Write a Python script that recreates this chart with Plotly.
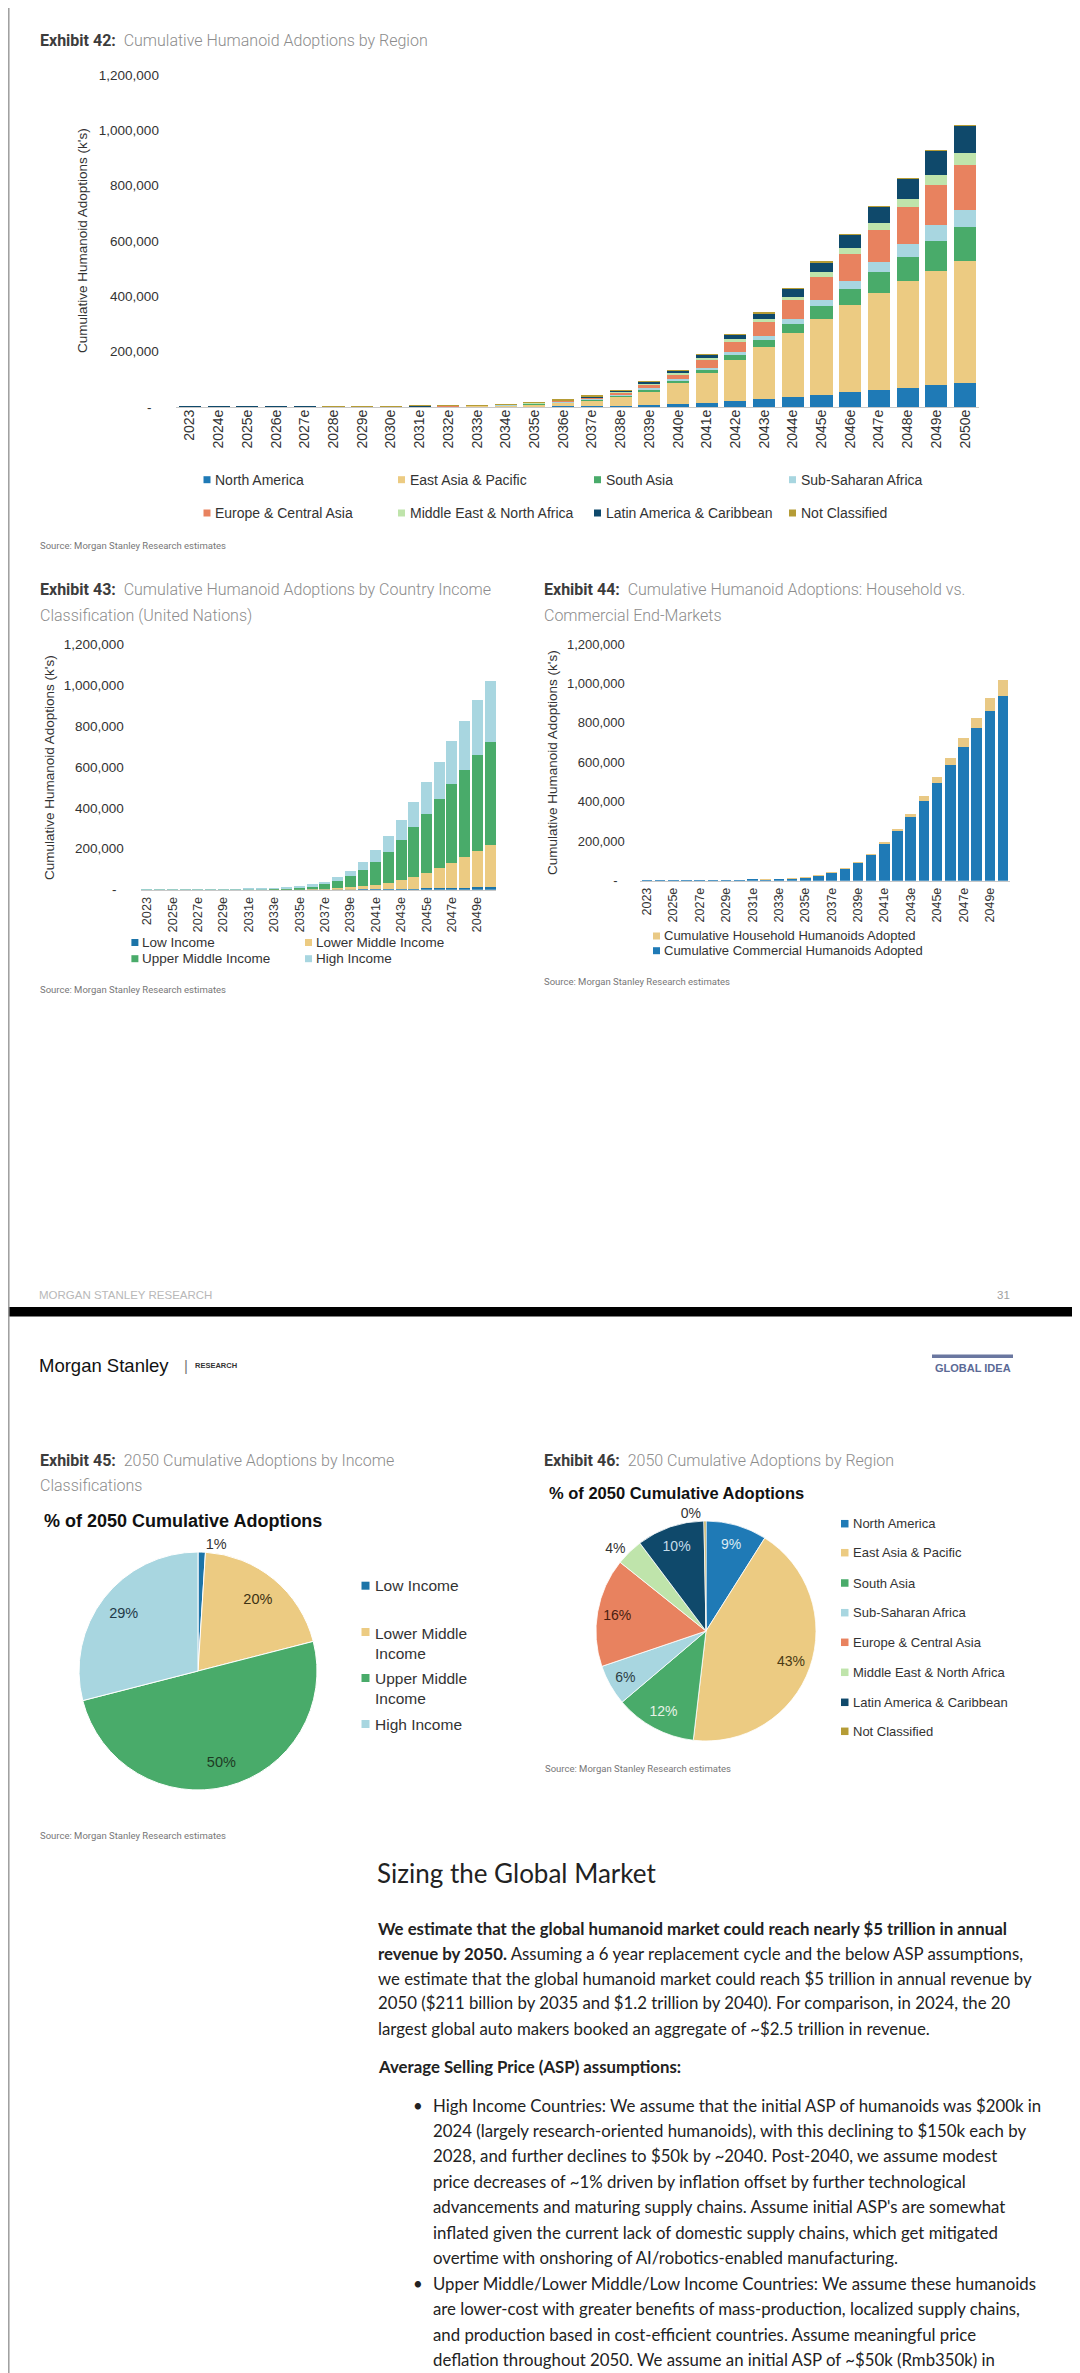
import plotly.graph_objects as go

W, H = 1080, 2373


def X(px):
    return px / W


def Y(py):
    return 1 - py / H


# ---------------- DATA ----------------
years = ['2023', '2024e', '2025e', '2026e', '2027e', '2028e', '2029e', '2030e', '2031e', '2032e',
         '2033e', '2034e', '2035e', '2036e', '2037e', '2038e', '2039e', '2040e', '2041e', '2042e',
         '2043e', '2044e', '2045e', '2046e', '2047e', '2048e', '2049e', '2050e']
alt_tick_years = ['2023', '2025e', '2027e', '2029e', '2031e', '2033e', '2035e', '2037e', '2039e',
                  '2041e', '2043e', '2045e', '2047e', '2049e']
y_tickvals = [0, 200000, 400000, 600000, 800000, 1000000, 1200000]
y_ticktext = ['-\u00a0\u00a0', '200,000', '400,000', '600,000', '800,000', '1,000,000', '1,200,000']

# Exhibit 42 - cumulative adoptions by region (k's)
region_names = ['North America', 'East Asia & Pacific', 'South Asia', 'Sub-Saharan Africa',
                'Europe & Central Asia', 'Middle East & North Africa', 'Latin America & Caribbean',
                'Not Classified']
north_america = [20, 40, 70, 110, 160, 220, 290, 370, 450, 560, 740, 1000, 1400, 2000, 3000, 4400,
                 6300, 9600, 15500, 21000, 29000, 36000, 44000, 53000, 60000, 69000, 78000, 87000]
east_asia_pacific = [40, 110, 230, 380, 580, 830, 1140, 1500, 1920, 2550, 3620, 5500, 8800, 13800,
                     22000, 34000, 51500, 76000, 107000, 148000, 188000, 231000, 274000, 315000,
                     352000, 385000, 415000, 442000]
south_asia = [5, 15, 30, 50, 75, 110, 150, 200, 250, 330, 460, 700, 1100, 1800, 2900, 4400, 6700,
              9600, 13000, 20000, 26000, 34000, 46000, 58000, 76000, 88000, 108000, 120000]
sub_saharan_africa = [2, 5, 10, 16, 24, 34, 46, 60, 80, 105, 150, 230, 380, 650, 1100, 1800, 2900,
                      4800, 7000, 10000, 13000, 18000, 24000, 30000, 36000, 48000, 56000, 64000]
europe_central_asia = [20, 50, 100, 150, 220, 300, 400, 510, 640, 800, 1100, 1600, 2500, 3800, 5900,
                       9000, 13500, 19000, 29000, 38000, 51000, 67000, 81000, 97000, 115000, 132000,
                       144000, 160000]
middle_east_n_africa = [3, 8, 15, 24, 36, 50, 70, 90, 110, 140, 190, 270, 420, 650, 1000, 1500, 2300,
                        3600, 5500, 7000, 10000, 12000, 18000, 22000, 26000, 31000, 39000, 45000]
latin_america_caribbean = [8, 20, 40, 60, 90, 130, 180, 240, 300, 380, 520, 750, 1200, 1900, 3100,
                           4900, 7300, 8400, 11000, 18000, 22000, 30000, 37000, 48000, 60000, 72000,
                           86000, 100000]
not_classified = [2, 2, 5, 10, 15, 26, 24, 30, 50, 135, 220, 450, 700, 900, 1000, 1000, 1000, 1000,
                  1000, 1000, 1000, 1000, 1000, 1000, 1000, 1000, 1000, 1000]
region_series = [north_america, east_asia_pacific, south_asia, sub_saharan_africa,
                 europe_central_asia, middle_east_n_africa, latin_america_caribbean, not_classified]
region_colors = ['#1f7ab6', '#eccb82', '#49ab6a', '#a8d6e0', '#e8825f', '#bfe4ab', '#0f496b', '#b59c36']

# Exhibit 43 - by country income classification (k's)
income_names = ['Low Income', 'Lower Middle Income', 'Upper Middle Income', 'High Income']
low_income = [1, 3, 5, 8, 12, 17, 23, 30, 38, 50, 70, 100, 160, 250, 400, 600, 1000, 1500, 2000,
              3000, 4000, 5000, 6000, 7000, 8000, 9000, 11000, 12000]
lower_middle_income = [10, 25, 50, 80, 120, 170, 230, 300, 380, 500, 700, 1000, 1600, 2500, 4000,
                       6500, 10000, 15000, 22000, 31000, 43000, 57000, 76000, 99000, 122000, 149000,
                       180000, 208000]
upper_middle_income = [45, 120, 250, 400, 600, 850, 1150, 1500, 1900, 2500, 3600, 5500, 9200, 15000,
                       24500, 37000, 54000, 78000, 111000, 150000, 196000, 245000, 290000, 339000,
                       387000, 429000, 466000, 502000]
high_income = [44, 102, 195, 312, 468, 663, 897, 1170, 1482, 1950, 2630, 3900, 5540, 7750, 11100,
               16900, 27000, 39500, 57000, 77000, 97000, 121000, 152000, 178000, 208000, 238000,
               269000, 296000]
income_series = [low_income, lower_middle_income, upper_middle_income, high_income]
income_colors = ['#1c74a8', '#eccb82', '#49ab6a', '#a8d6e0']

# Exhibit 44 - household vs commercial (k's)
commercial_adopted = [100, 250, 500, 800, 1200, 1700, 2300, 3000, 3800, 4990, 6980, 10460, 16420,
                      25350, 39750, 60600, 91300, 132500, 188500, 252000, 324000, 406000, 495000,
                      589000, 680000, 774000, 859000, 936000]
household_adopted = [0, 0, 0, 0, 0, 0, 0, 0, 0, 10, 20, 40, 80, 150, 250, 400, 700, 1500, 3500, 9000,
                     16000, 22000, 29000, 34000, 45000, 51000, 67000, 82000]
enduse_names = ['Cumulative Household Humanoids Adopted', 'Cumulative Commercial Humanoids Adopted']
enduse_colors = ['#e9c985', '#1f7ab6']

# Exhibit 45 - 2050 share by income (%)
income_pie_labels = ['Low Income', 'Lower Middle Income', 'Upper Middle Income', 'High Income']
income_pie_pct = [1, 20, 50, 29]

# Exhibit 46 - 2050 share by region (%)
region_pie_pct = [9, 43, 12, 6, 16, 4, 10, 0.3]

FONT = 'Liberation Sans, Arial, sans-serif'
TITLE_FONT = 'Roboto, Liberation Sans, sans-serif'
BODY_FONT = 'Lato, Open Sans, sans-serif'

fig = go.Figure()

# ---------------- BAR TRACES ----------------
for name, vals, col in zip(region_names, region_series, region_colors):
    fig.add_trace(go.Bar(x=years, y=vals, name=name, marker=dict(color=col, line=dict(width=0)),
                         width=0.77, xaxis='x', yaxis='y', showlegend=False))

for name, vals, col in zip(income_names, income_series, income_colors):
    fig.add_trace(go.Bar(x=years, y=vals, name=name, marker=dict(color=col, line=dict(width=0)),
                         width=0.86, xaxis='x2', yaxis='y2', showlegend=False))

fig.add_trace(go.Bar(x=years, y=commercial_adopted, name=enduse_names[1],
                     marker=dict(color=enduse_colors[1], line=dict(width=0)), width=0.8,
                     xaxis='x3', yaxis='y3', showlegend=False))
fig.add_trace(go.Bar(x=years, y=household_adopted, name=enduse_names[0],
                     marker=dict(color=enduse_colors[0], line=dict(width=0)), width=0.8,
                     xaxis='x3', yaxis='y3', showlegend=False))

# ---------------- PIE TRACES ----------------
pie45_dom = dict(x=[X(71), X(309)], y=[Y(1782), Y(1544)])
fig.add_trace(go.Pie(values=income_pie_pct, labels=income_pie_labels, domain=pie45_dom, sort=False,
                     direction='clockwise', rotation=0, textinfo='none', showlegend=False,
                     marker=dict(colors=income_colors, line=dict(color='white', width=1))))
fig.add_trace(go.Pie(values=income_pie_pct, labels=income_pie_labels, domain=pie45_dom, sort=False,
                     direction='clockwise', rotation=0, hole=0.58, showlegend=False,
                     hoverinfo='skip',
                     marker=dict(colors=['rgba(0,0,0,0)'] * 4, line=dict(width=0)),
                     texttemplate='%{percent:.0%}',
                     textposition=['outside', 'inside', 'inside', 'inside'],
                     insidetextorientation='horizontal',
                     textfont=dict(family=FONT, size=14.5,
                                   color=['#333333', '#3d3213', '#1e3b24', '#1f3a48'])))

pie46_dom = dict(x=[X(588), X(808)], y=[Y(1733), Y(1513)])
fig.add_trace(go.Pie(values=region_pie_pct, labels=region_names, domain=pie46_dom, sort=False,
                     direction='clockwise', rotation=0, textinfo='none', showlegend=False,
                     marker=dict(colors=region_colors, line=dict(color='white', width=0.8))))
fig.add_trace(go.Pie(values=region_pie_pct, labels=region_names, domain=pie46_dom, sort=False,
                     direction='clockwise', rotation=0, hole=0.64, showlegend=False,
                     hoverinfo='skip',
                     marker=dict(colors=['rgba(0,0,0,0)'] * 8, line=dict(width=0)),
                     texttemplate='%{percent:.0%}',
                     textposition=['inside', 'inside', 'inside', 'inside', 'inside', 'outside',
                                   'inside', 'outside'],
                     insidetextorientation='horizontal',
                     textfont=dict(family=FONT, size=14,
                                   color=['#dbeaf3', '#4a3a14', '#e6f2e6', '#2c3e45', '#4a1d10',
                                          '#333333', '#c4dcea', '#333333'])))


# ---------------- AXES ----------------
def xaxis_cfg(x0, x1, anchor, size, standoff, tickvals=None):
    d = dict(domain=[X(x0), X(x1)], anchor=anchor, type='category', showline=True,
             linecolor='#c8c8c8', linewidth=1, ticks='', tickangle=-90, showgrid=False,
             zeroline=False, tickfont=dict(family=FONT, size=size, color='#333333'),
             ticklabelstandoff=standoff, fixedrange=True)
    if tickvals is not None:
        d.update(tickmode='array', tickvals=tickvals, ticktext=tickvals)
    return d


def yaxis_cfg(ybot, ytop, anchor, size, ticklen):
    # invisible outside ticks keep the labels clear of the bars
    return dict(domain=[Y(ybot), Y(ytop)], anchor=anchor, range=[0, 1200000], tickmode='array',
                tickvals=y_tickvals, ticktext=y_ticktext, showgrid=False, zeroline=False,
                showline=False, ticks='outside', ticklen=ticklen, tickwidth=1,
                tickcolor='rgba(0,0,0,0)',
                tickfont=dict(family=FONT, size=size, color='#333333'), fixedrange=True)


annotations = []
shapes = []


def ann(text, px, py, size, color='#333333', family=FONT, xanchor='left', angle=0, weight=None):
    f = dict(family=family, size=size, color=color)
    if weight is not None:
        f['weight'] = weight
    annotations.append(dict(text=text, x=X(px), y=Y(py), xref='paper', yref='paper',
                            xanchor=xanchor, yanchor='middle', showarrow=False, font=f,
                            textangle=angle, align='left'))


def swatch(px0, py, color, size=7):
    shapes.append(dict(type='rect', xref='paper', yref='paper', x0=X(px0), x1=X(px0 + size),
                       y0=Y(py + size / 2), y1=Y(py - size / 2), fillcolor=color,
                       line=dict(width=0)))


def exhibit_title(num, text, px, py):
    ann('<span style="color:#3c3c3c"><b>Exhibit %s:</b></span>\u00a0\u00a0%s' % (num, text),
        px, py, 16, color='#8c8c8c', family=TITLE_FONT, weight=300)


# ---------------- PAGE 31 ----------------
exhibit_title('42', 'Cumulative Humanoid Adoptions by Region', 30, 33)
ann("Cumulative Humanoid Adoptions (k's)", 74, 233, 13.5, angle=-90, xanchor='center')
ann('Source: Morgan Stanley Research estimates', 30, 537, 9.5, color='#777777', family=TITLE_FONT)

leg42_x = [195.5, 390, 586, 781]
leg42_y = [471.7, 505]
for i, (name, col) in enumerate(zip(region_names, region_colors)):
    lx = leg42_x[i % 4]
    ly = leg42_y[i // 4]
    swatch(lx, ly, col, 7)
    ann(name, lx + 9.5, ly, 14)

exhibit_title('43', 'Cumulative Humanoid Adoptions by Country Income', 30, 581.7)
ann('Classification (United Nations)', 30, 607, 16, color='#8c8c8c', family=TITLE_FONT, weight=300)
ann("Cumulative Humanoid Adoptions (k's)", 41, 760, 13.5, angle=-90, xanchor='center')
leg43 = [(123.4, 934.5), (297, 934.5), (123.4, 950.7), (297, 950.7)]
for (lx, ly), name, col in zip(leg43, income_names, income_colors):
    swatch(lx, ly, col, 7)
    ann(name, lx + 9, ly, 13.5)
ann('Source: Morgan Stanley Research estimates', 30, 981.7, 9.5, color='#777777', family=TITLE_FONT)

exhibit_title('44', 'Cumulative Humanoid Adoptions: Household vs.', 534, 581.7)
ann('Commercial End-Markets', 534, 607, 16, color='#8c8c8c', family=TITLE_FONT, weight=300)
ann("Cumulative Humanoid Adoptions (k's)", 544, 755, 13.5, angle=-90, xanchor='center')
leg44 = [(645, 928), (645, 942.7)]
for (lx, ly), name, col in zip(leg44, enduse_names, enduse_colors):
    swatch(lx, ly, col, 7)
    ann(name, lx + 8.5, ly, 13)
ann('Source: Morgan Stanley Research estimates', 534, 973, 9.5, color='#777777', family=TITLE_FONT)

ann('MORGAN STANLEY RESEARCH', 29, 1287, 11.5, color='#b8b8b8')
ann('31', 1004, 1287, 11.5, color='#a0a0a0', xanchor='right')

# black page break band
shapes.append(dict(type='rect', xref='paper', yref='paper', x0=0, x1=1, y0=Y(1308.5), y1=Y(1299),
                   fillcolor='#000000', line=dict(width=0)))
# left page border
shapes.append(dict(type='line', xref='paper', yref='paper', x0=X(0.8), x1=X(0.8), y0=0, y1=1,
                   line=dict(color='#9d9d9d', width=1.5)))

# ---------------- PAGE 32 ----------------
ann('Morgan Stanley', 29, 1357, 18.5, color='#111111')
ann('|', 174, 1357, 15, color='#777777')
ann('<b>RESEARCH</b>', 185, 1357, 7.5, color='#333333')
shapes.append(dict(type='rect', xref='paper', yref='paper', x0=X(924), x1=X(1005), y0=Y(1350),
                   y1=Y(1346.5), fillcolor='#6a77a0', line=dict(width=0)))
ann('<b>GLOBAL IDEA</b>', 1005, 1359.5, 11, color='#5b6a96', xanchor='right')

exhibit_title('45', '2050 Cumulative Adoptions by Income', 30, 1452.7)
ann('Classifications', 30, 1478, 16, color='#8c8c8c', family=TITLE_FONT, weight=300)
ann('<b>% of 2050 Cumulative Adoptions</b>', 34, 1513, 18, color='#111111')
leg45 = [(353.5, 1577.7, 'Low Income'), (353.5, 1624, 'Lower Middle<br>Income'),
         (353.5, 1670, 'Upper Middle<br>Income'), (353.5, 1716, 'High Income')]
for (lx, ly, txt), col in zip(leg45, income_colors):
    swatch(lx, ly, col, 8)
    if '<br>' in txt:
        annotations.append(dict(text=txt, x=X(lx + 11.5), y=Y(ly - 9.5), xref='paper', yref='paper',
                                xanchor='left', yanchor='top', showarrow=False, align='left',
                                font=dict(family=FONT, size=15.5, color='#333333')))
    else:
        ann(txt, lx + 11.5, ly, 15.5)
ann('Source: Morgan Stanley Research estimates', 30, 1827, 9.5, color='#777777', family=TITLE_FONT)

exhibit_title('46', '2050 Cumulative Adoptions by Region', 534, 1452.7)
ann('<b>% of 2050 Cumulative Adoptions</b>', 539, 1485, 16.5, color='#111111')
leg46_y = [1515.7, 1544.7, 1575, 1604.7, 1634.3, 1664.3, 1694.3, 1723.3]
for ly, name, col in zip(leg46_y, region_names, region_colors):
    swatch(833, ly, col, 7.5)
    ann(name, 843, ly, 13)
ann('Source: Morgan Stanley Research estimates', 535, 1760, 9.5, color='#777777', family=TITLE_FONT)

# ---------------- BODY TEXT ----------------
ann('Sizing the Global Market', 367, 1865, 26, color='#222222', family=BODY_FONT)
body_lines = [
    (1920, 368, '<b>We estimate that the global humanoid market could reach nearly $5 trillion in annual</b>'),
    (1945, 368, '<b>revenue by 2050.</b> Assuming a 6 year replacement cycle and the below ASP assumptions,'),
    (1970.5, 368, 'we estimate that the global humanoid market could reach $5 trillion in annual revenue by'),
    (1994.5, 368, '2050 ($211 billion by 2035 and $1.2 trillion by 2040). For comparison, in 2024, the 20'),
    (2020, 368, 'largest global auto makers booked an aggregate of ~$2.5 trillion in revenue.'),
    (2058.7, 368, '<b>Average Selling Price (ASP) assumptions:</b>'),
    (2097, 423, 'High Income Countries: We assume that the initial ASP of humanoids was $200k in'),
    (2122.4, 423, '2024 (largely research-oriented humanoids), with this declining to $150k each by'),
    (2147.6, 423, '2028, and further declines to $50k by ~2040. Post-2040, we assume modest'),
    (2173.4, 423, 'price decreases of ~1% driven by inflation offset by further technological'),
    (2198.7, 423, "advancements and maturing supply chains. Assume initial ASP's are somewhat"),
    (2224, 423, 'inflated given the current lack of domestic supply chains, which get mitigated'),
    (2249.6, 423, 'overtime with onshoring of AI/robotics-enabled manufacturing.'),
    (2275, 423, 'Upper Middle/Lower Middle/Low Income Countries: We assume these humanoids'),
    (2300.8, 423, 'are lower-cost with greater benefits of mass-production, localized supply chains,'),
    (2326.3, 423, 'and production based in cost-efficient countries. Assume meaningful price'),
    (2351.4, 423, 'deflation throughout 2050. We assume an initial ASP of ~$50k (Rmb350k) in'),
]
for py, px, txt in body_lines:
    ann(txt, px, py, 16.8, color='#222222', family=BODY_FONT)
for py in [2097, 2275]:
    ann('\u2022', 403, py, 16.8, color='#222222', family=BODY_FONT)

fig.update_layout(
    width=W, height=H, margin=dict(l=0, r=0, t=0, b=0), template='none',
    paper_bgcolor='white', plot_bgcolor='white', barmode='stack', showlegend=False,
    font=dict(family=FONT, size=13, color='#333333'),
    xaxis=xaxis_cfg(167.6, 971.4, 'y', 14, -4),
    yaxis=yaxis_cfg(399, 67, 'x', 13.5, 13),
    xaxis2=xaxis_cfg(132.6, 488.4, 'y2', 12.8, 1, alt_tick_years),
    yaxis2=yaxis_cfg(881.7, 636, 'x2', 13.5, 13),
    xaxis3=xaxis_cfg(632.4, 1001.6, 'y3', 12.5, 1, alt_tick_years),
    yaxis3=yaxis_cfg(872.7, 636, 'x3', 13, 12),
    annotations=annotations, shapes=shapes,
)

fig.write_html('out.html')
